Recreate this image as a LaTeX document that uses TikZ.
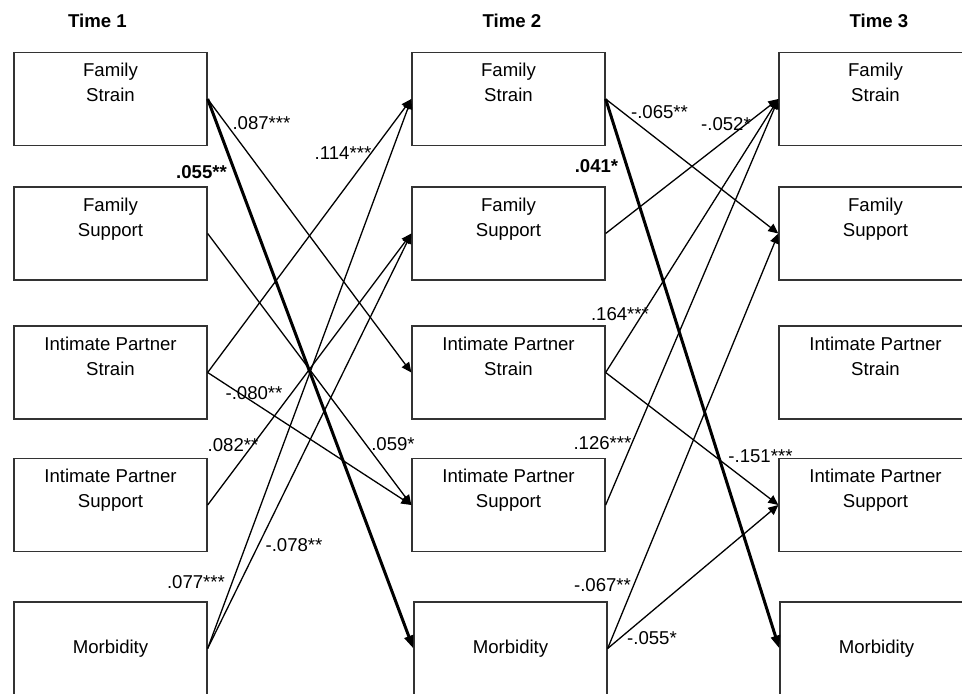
\documentclass[tikz,border=0pt]{standalone}
\usepackage{fontspec}
\setmainfont{Liberation Sans}
\usetikzlibrary{arrows.meta}

\tikzset{
  var/.style={draw=black!80, line width=1.3pt, minimum width=193pt, minimum height=93pt,
    inner sep=0pt, align=center, font=\fontsize{18.6}{25}\selectfont},
  wave/.style={font=\bfseries\fontsize{18.6}{22}\selectfont},
  coef/.style={inner sep=0pt, font=\fontsize{18.6}{22}\selectfont},
  effect/.style={line width=1.3pt, -{Triangle[length=10pt,width=9pt]}},
  strong/.style={line width=3pt, -{Triangle[length=13pt,width=9pt]}},
}

\begin{document}
\begin{tikzpicture}[x=1pt, y=-1pt]
%   Time 1        Time 2        Time 3
%   a1 ---------> b1 ---------> c1     family strain
%   a2            b2            c2     family support
%   a3            b3            c3     partner strain
%   a4            b4            c4     partner support
%   a5            b5            c5     morbidity
\useasboundingbox (0,0) rectangle (962,694);

\node[wave] (t1) at (97.5, 21) {Time 1};
\node[wave] (t2) at (512, 21) {Time 2};
\node[wave] (t3) at (879, 21) {Time 3};

\node[var] (a1) at (110.5, 99)   {Family\\Strain\\[8pt]~};
\node[var] (a2) at (110.5, 233.5) {Family\\Support\\[8pt]~};
\node[var] (a3) at (110.5, 372.5) {Intimate Partner\\Strain\\[8pt]~};
\node[var] (a4) at (110.5, 505)   {Intimate Partner\\Support\\[8pt]~};
\node[var] (a5) at (110.5, 648.5) {Morbidity};

\node[var] (b1) at (508.5, 99)   {Family\\Strain\\[8pt]~};
\node[var] (b2) at (508.5, 233.5) {Family\\Support\\[8pt]~};
\node[var] (b3) at (508.5, 372.5) {Intimate Partner\\Strain\\[8pt]~};
\node[var] (b4) at (508.5, 505)   {Intimate Partner\\Support\\[8pt]~};
\node[var] (b5) at (510.5, 648.5) {Morbidity};

\node[var] (c1) at (875.5, 99)   {Family\\Strain\\[8pt]~};
\node[var] (c2) at (875.5, 233.5) {Family\\Support\\[8pt]~};
\node[var] (c3) at (875.5, 372.5) {Intimate Partner\\Strain\\[8pt]~};
\node[var] (c4) at (875.5, 505)   {Intimate Partner\\Support\\[8pt]~};
\node[var] (c5) at (876.5, 648.5) {Morbidity};

% time 1 -> time 2
\draw[effect] (a1.east) -- (b3.west);
\draw[strong] (a1.east) -- (b5.west);
\draw[effect] (a2.east) -- (b4.west);
\draw[effect] (a3.east) -- (b1.west);
\draw[effect] (a3.east) -- (b4.west);
\draw[effect] (a4.east) -- (b2.west);
\draw[effect] (a5.east) -- (b1.west);
\draw[effect] (a5.east) -- (b2.west);

% time 2 -> time 3
\draw[effect] (b1.east) -- (c2.west);
\draw[strong] (b1.east) -- (c5.west);
\draw[effect] (b2.east) -- (c1.west);
\draw[effect] (b3.east) -- (c1.west);
\draw[effect] (b3.east) -- (c4.west);
\draw[effect] (b4.east) -- (c1.west);
\draw[effect] (b5.east) -- (c2.west);
\draw[effect] (b5.east) -- (c4.west);

\node[coef] (k1)  at (261.5, 123.5) {.087***};
\node[coef] (k2)  at (201.5, 172)   {\bfseries .055**};
\node[coef] (k3)  at (343, 153)     {.114***};
\node[coef] (k4)  at (254, 393)     {-.080**};
\node[coef] (k5)  at (233, 445)     {.082**};
\node[coef] (k6)  at (393, 444)     {.059*};
\node[coef] (k7)  at (196, 582)     {.077***};
\node[coef] (k8)  at (294, 545)     {-.078**};
\node[coef] (k9)  at (659.5, 112)   {-.065**};
\node[coef] (k10) at (596.5, 166)   {\bfseries .041*};
\node[coef] (k11) at (726, 124)     {-.052*};
\node[coef] (k12) at (620, 314)     {.164***};
\node[coef] (k13) at (602.5, 443)   {.126***};
\node[coef] (k14) at (760.5, 456)   {-.151***};
\node[coef] (k15) at (602.5, 585)   {-.067**};
\node[coef] (k16) at (652, 638)     {-.055*};
\end{tikzpicture}
\end{document}
